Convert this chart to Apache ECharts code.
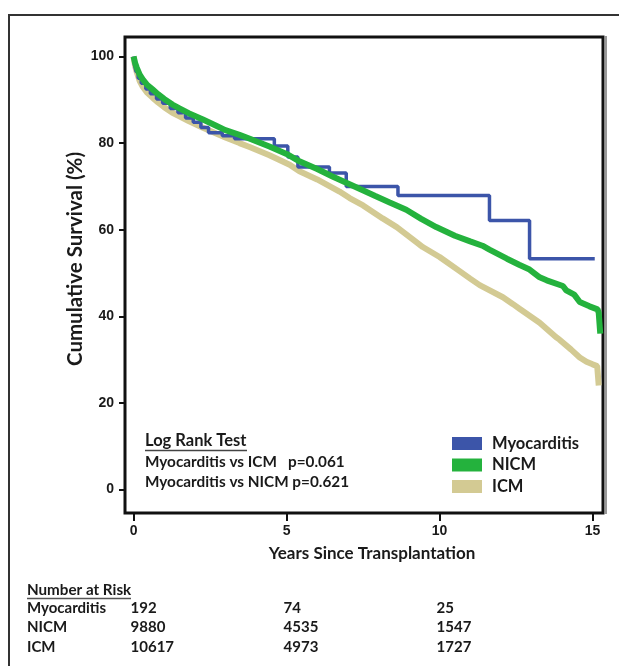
<!DOCTYPE html>
<html>
<head>
<meta charset="utf-8">
<script src="https://cdn.jsdelivr.net/npm/echarts@6/dist/echarts.min.js"></script>
<style>
html,body{margin:0;padding:0;background:#fff;}
#chart{width:619px;height:666px;}
</style>
</head>
<body>
<div id="chart"></div>
<script>
// ---- Data ----
const xTicks = [0, 5, 10, 15];
const yTicks = [0, 20, 40, 60, 80, 100];
const seriesNames = ['Myocarditis', 'NICM', 'ICM'];

// [years, survival %]
const myocarditisCurve = [
  [0,100],[0.03,98],[0.08,96.5],[0.15,95],[0.25,93.8],[0.4,92.5],[0.55,91.4],
  [0.75,90.2],[0.95,89.2],[1.2,88.0],[1.45,87.0],[1.7,85.8],[1.95,84.8],[2.2,83.6],
  [2.45,82.4],[2.9,81.7],[3.3,81.0],[4.6,79.3],[5.04,76.8],[5.37,74.5],[6.4,73.1],
  [6.95,70.0],[8.64,67.9],[11.63,62.1],[12.94,53.3],[15.07,53.3]
];
const nicmCurve = [
  [0,100],[0.05,98.5],[0.1,97.5],[0.2,95.8],[0.3,94.7],[0.45,93.4],[0.62,92.4],
  [0.8,91.3],[1.0,90.2],[1.27,88.9],[1.5,88.0],[1.8,86.9],[2.25,85.5],[2.7,84.0],
  [3.0,83.0],[3.46,81.9],[3.8,81.0],[4.44,79.2],[5.0,77.5],[5.42,75.8],[6.0,74.0],
  [6.5,72.3],[7.06,70.5],[7.4,69.4],[7.9,67.8],[8.37,66.3],[8.91,64.6],[9.4,62.5],
  [9.89,60.6],[10.5,58.6],[11.0,57.3],[11.4,56.3],[11.63,55.4],[12.2,53.3],[12.6,51.9],
  [12.94,50.8],[13.27,49.0],[13.5,48.3],[14.03,47.0],[14.14,46.0],[14.4,45.0],
  [14.58,43.3],[14.9,42.3],[15.16,41.6],[15.2,40.8],[15.25,36.0]
];
const icmCurve = [
  [0,100],[0.05,97.8],[0.1,96.5],[0.2,94.3],[0.3,93.0],[0.45,91.6],[0.62,90.5],
  [0.8,89.4],[1.0,88.3],[1.27,87.0],[1.5,86.2],[1.8,85.1],[2.25,83.6],[2.7,82.2],
  [3.0,81.3],[3.46,80.0],[3.79,79.1],[4.44,77.2],[5.1,75.0],[5.42,73.5],[6.0,71.6],
  [6.73,68.8],[7.06,67.3],[7.5,65.6],[8.14,62.6],[8.6,60.6],[9.23,57.2],[9.45,56.0],
  [10.0,53.7],[10.54,51.0],[11.0,48.7],[11.31,47.2],[12.07,44.4],[12.4,42.8],[12.6,41.8],
  [13.27,38.5],[13.8,35.2],[13.92,34.6],[14.3,32.3],[14.58,30.5],[14.8,29.5],[15.0,28.9],
  [15.15,28.5],[15.2,24.0]
];

const logRankLines = ['Myocarditis vs ICM   p=0.061', 'Myocarditis vs NICM p=0.621'];
const riskYears = [0, 5, 10];
const riskMyocarditis = [192, 74, 25];
const riskNICM = [9880, 4535, 1547];
const riskICM = [10617, 4973, 1727];

// ---- Styling ----
const colors = { Myocarditis: '#3c55a9', NICM: '#24b23d', ICM: '#d3ca93' };
const textFont = 'Lato, "Open Sans", sans-serif';
const tickFont = '"Liberation Sans Narrow", "Liberation Sans", Arial, sans-serif';
const ink = '#1a1a1a';

const chart = echarts.init(document.getElementById('chart'), null, { renderer: 'canvas' });

const option = {
  animation: false,
  backgroundColor: '#fff',
  grid: {
    left: 125, top: 37, width: 478, height: 476,
    show: true, borderColor: '#111', borderWidth: 3, backgroundColor: 'transparent'
  },
  legend: {
    data: seriesNames,
    orient: 'vertical',
    left: 452, top: 435,
    padding: 0,
    icon: 'rect',
    itemWidth: 30, itemHeight: 13, itemGap: 4.5,
    textStyle: { fontFamily: textFont, fontWeight: 'bold', fontSize: 16.5, color: ink, lineHeight: 13, padding: [0,0,0,5] }
  },
  xAxis: {
    type: 'value', min: -0.28, max: 15.34,
    axisLine: { show: false, onZero: false },
    splitLine: { show: false },
    axisTick: { show: true, customValues: xTicks, length: 8, lineStyle: { color: '#111', width: 2 } },
    axisLabel: { customValues: xTicks, margin: 11, fontFamily: tickFont, fontWeight: 'bold', fontSize: 14, color: ink }
  },
  yAxis: {
    type: 'value', min: -5.43, max: 104.5,
    axisLine: { show: false, onZero: false },
    splitLine: { show: false },
    axisTick: { show: true, customValues: yTicks, length: 6, lineStyle: { color: '#111', width: 2 } },
    axisLabel: { customValues: yTicks, margin: 11, fontFamily: tickFont, fontWeight: 'bold', fontSize: 14, color: ink }
  },
  series: [
    { name: 'ICM', type: 'line', data: icmCurve, showSymbol: false, smooth: false,
      lineStyle: { color: colors.ICM, width: 6 }, itemStyle: { color: colors.ICM }, z: 2 },
    { name: 'Myocarditis', type: 'line', data: myocarditisCurve, step: 'end', showSymbol: false,
      lineStyle: { color: colors.Myocarditis, width: 3.5 }, itemStyle: { color: colors.Myocarditis }, z: 3 },
    { name: 'NICM', type: 'line', data: nicmCurve, showSymbol: false, smooth: false,
      lineStyle: { color: colors.NICM, width: 6 }, itemStyle: { color: colors.NICM }, z: 4 }
  ]
};
chart.setOption(option);

// ---- Text graphics ----
const g = [];
// outer frame
g.push({ type: 'rect', shape: { x: 9, y: 15, width: 700, height: 700 }, style: { fill: 'none', stroke: '#333', lineWidth: 2 }, silent: true });
// second (grey) edge on right of plot frame
g.push({ type: 'line', shape: { x1: 606, y1: 36, x2: 606, y2: 514 }, style: { stroke: '#777', lineWidth: 1.5 }, silent: true });
// axis titles
g.push({ type: 'text', x: 75, y: 259, rotation: Math.PI / 2,
  style: { text: 'Cumulative Survival (%)', fontFamily: textFont, fontWeight: 'bold', fontSize: 20.5, fill: ink, align: 'center', verticalAlign: 'middle' } });
g.push({ type: 'text', x: 372, y: 554,
  style: { text: 'Years Since Transplantation', fontFamily: textFont, fontWeight: 'bold', fontSize: 17, fill: ink, align: 'center', verticalAlign: 'middle' } });
// log rank annotation
g.push({ type: 'text', x: 145, y: 441, style: { text: 'Log Rank Test', fontFamily: textFont, fontWeight: 'bold', fontSize: 16.5, fill: ink, verticalAlign: 'middle' } });
g.push({ type: 'line', shape: { x1: 145, y1: 450.5, x2: 247, y2: 450.5 }, style: { stroke: '#444', lineWidth: 1.5 } });
logRankLines.forEach((t, i) => {
  g.push({ type: 'text', x: 145, y: 462 + i * 20, style: { text: t, fontFamily: textFont, fontWeight: 'bold', fontSize: 15.3, fill: ink, verticalAlign: 'middle' } });
});
// number at risk table
g.push({ type: 'text', x: 27, y: 590, style: { text: 'Number at Risk', fontFamily: textFont, fontWeight: 'bold', fontSize: 15.2, fill: ink, verticalAlign: 'middle' } });
g.push({ type: 'line', shape: { x1: 27, y1: 598.5, x2: 131, y2: 598.5 }, style: { stroke: '#555', lineWidth: 1.5 } });
const riskRows = [['Myocarditis', riskMyocarditis], ['NICM', riskNICM], ['ICM', riskICM]];
riskRows.forEach((row, r) => {
  const y = 608 + r * 19.5;
  g.push({ type: 'text', x: 27, y: y, style: { text: row[0], fontFamily: textFont, fontWeight: 'bold', fontSize: 15, fill: ink, verticalAlign: 'middle' } });
  row[1].forEach((v, c) => {
    const px = chart.convertToPixel({ xAxisIndex: 0 }, riskYears[c]) - 3;
    g.push({ type: 'text', x: px, y: y, style: { text: String(v), fontFamily: textFont, fontWeight: 'bold', fontSize: 15, fill: ink, verticalAlign: 'middle' } });
  });
});
chart.setOption({ graphic: g });
</script>
</body>
</html>
